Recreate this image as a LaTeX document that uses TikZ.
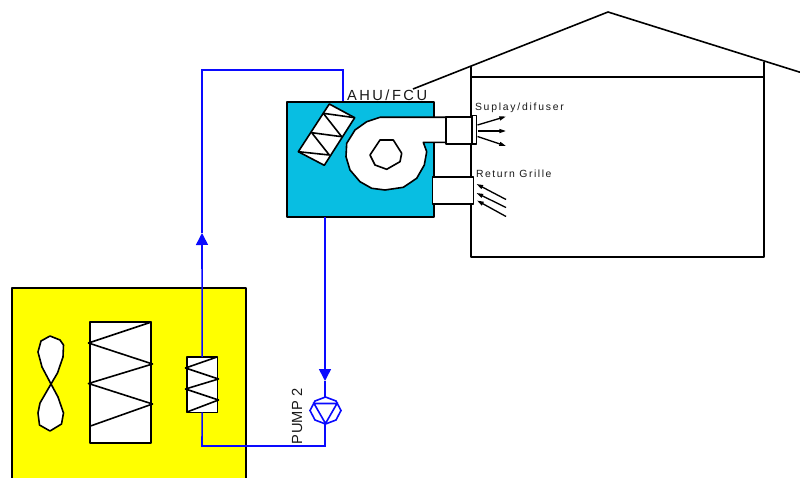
\documentclass[tikz,border=0pt]{standalone}
\usepackage{fontspec}
\setmainfont{Liberation Sans}
\usetikzlibrary{arrows.meta}
\definecolor{ahucyan}{RGB}{8,190,226}
\definecolor{pipeblue}{RGB}{10,10,255}
\definecolor{txt}{RGB}{25,25,25}
\definecolor{condyellow}{RGB}{255,255,0}
\tikzset{
  ln/.style={draw=black,line width=1.2pt,line join=round},
  wh/.style={ln,fill=white},
  boxn/.style={ln,inner sep=0pt,outer sep=0pt,anchor=north west},
  pipe/.style={draw=pipeblue,line width=1.2pt,line join=miter},
  pipetip/.style={pipe,-{Triangle[length=9pt,width=9pt]}},
  air/.style={draw=black,line width=1pt,-{Triangle[length=5pt,width=3pt]}},
  lab/.style={inner sep=0pt,outer sep=0pt,text=txt,anchor=base west}
}
\begin{document}
\begin{tikzpicture}[x=0.75pt,y=-0.75pt]
\clip (0,0) rectangle (800,478);
\fill[white] (0,0) rectangle (800,478);
% house
\coordinate (roofL) at (413,89);
\coordinate (roofT) at (608,12);
\coordinate (roofR) at (812,76);
\draw[ln] (roofL) -- (roofT) -- (roofR);
\draw[ln] (471,66) -- (471,257) -- (764,257) -- (764,62);
\draw[ln] (471,77) -- (764,77);
% yellow unit
\node[boxn,fill=condyellow,minimum width=175.5pt,minimum height=150pt] (cond) at (12,288) {};
\node[boxn,fill=white,minimum width=45.75pt,minimum height=90.75pt] (bigcoil) at (90,322) {};
\draw[ln] (151.5,322) -- (88.5,343) -- (152.5,364) -- (88.5,383.5) -- (152.5,404) -- (90.5,426);
\filldraw[wh] (51,384) -- (42,367) -- (38,352) -- (41,341) -- (50,336) -- (60,340) -- (63.5,345) -- (63,357) -- (57.5,373) -- (51,384)
  -- (40,403) -- (38,413) -- (39.5,425) -- (50,431) -- (61.5,424) -- (63.5,413) -- (58,397) -- cycle;
% supply water pipe
\node[boxn,fill=white,minimum width=22.75pt,minimum height=41.5pt] (smallcoil) at (187,357) {};
\draw[ln] (217,357) -- (185.5,368) -- (218.5,379) -- (185.5,389) -- (218.5,400) -- (187,412);
\coordinate (tipA) at (202,233);
\coordinate (bendA) at (202,70);
\coordinate (bendB) at (343,70);
\coordinate (ahuIn) at (343,102);
\draw[pipetip] (smallcoil.north) -- (tipA);
\draw[pipe] (tipA) -- (bendA) -- (bendB) -- (ahuIn);
% AHU
\node[boxn,fill=ahucyan,minimum width=110.25pt,minimum height=86.25pt] (ahu) at (287,102) {};
\filldraw[wh] (329.3,104) -- (354.7,117.7) -- (324.3,165.3) -- (298.3,151.7) -- cycle;
\draw[ln] (354.7,117.7) -- (323.3,113.3) -- (341.7,136.7) -- (311.7,132.7) -- (329.3,155) -- (298.3,151.7);
% fan scroll
\filldraw[wh] (446,117.3) -- (380,117.3) -- (366.7,121.7) -- (355,130) -- (346.7,143.3) -- (346,156.7) -- (350,170) -- (360,181.7)
  -- (371.7,188.3) -- (385,190) -- (403.3,187.3) -- (416.7,178.3) -- (424.3,165) -- (426.7,151.7) -- (423.3,142.3) -- (446,142.3) -- cycle;
\filldraw[wh] (380,140) -- (393.3,140) -- (401.7,153.3) -- (400,161.7) -- (386.7,169.3) -- (375,165) -- (370,155) -- cycle;
\draw[wh] (471.7,115.7) rectangle (476.3,144);
\node[boxn,fill=white,minimum width=19.5pt,minimum height=20pt] (supduct) at (445.7,117.3) {};
\node[boxn,fill=white,minimum width=30.75pt,minimum height=20.25pt] (retduct) at (432.5,177) {};
% air arrows
\coordinate (s1a) at (477.5,125); \coordinate (s1b) at (506,116.5);
\coordinate (s2a) at (477.5,131); \coordinate (s2b) at (506,131);
\coordinate (s3a) at (477.5,136.5); \coordinate (s3b) at (506,146);
\draw[air] (s1a) -- (s1b);
\draw[air] (s2a) -- (s2b);
\draw[air] (s3a) -- (s3b);
\coordinate (r1a) at (506,199.5); \coordinate (r1b) at (476.5,184);
\coordinate (r2a) at (506,207.5); \coordinate (r2b) at (476.5,193);
\coordinate (r3a) at (506,216.5); \coordinate (r3b) at (477,200.5);
\draw[air] (r1a) -- (r1b);
\draw[air] (r2a) -- (r2b);
\draw[air] (r3a) -- (r3b);
% return water pipe and pump
\coordinate (ahuOut) at (325,217);
\coordinate (tipB) at (325,381);
\coordinate (pumpB) at (325,423.5);
\coordinate (bendC) at (325,446);
\coordinate (bendD) at (202,446);
\draw[pipetip] (ahuOut) -- (tipB);
\draw[pipe] (tipB) -- (325,397);
\draw[pipe] (325.5,397) -- (336,401) -- (341,410.5) -- (336,420) -- (325.5,424) -- (315,420) -- (310,410.5) -- (315,401) -- cycle;
\draw[pipe] (314,403.5) -- (337,403.5) -- (325.5,423.5) -- cycle;
\draw[pipe] (pumpB) -- (bendC) -- (bendD) -- (smallcoil.south);
% labels
\node[lab] (lAHU) at (347,101) {\fontsize{11pt}{13pt}\selectfont\addfontfeature{LetterSpace=17}AHU/FCU};
\node[lab] (lSup) at (475,110) {\fontsize{7.8pt}{9pt}\selectfont\addfontfeature{LetterSpace=17}Suplay/difuser};
\node[lab] (lRet) at (476,177) {\fontsize{7.8pt}{9pt}\selectfont\addfontfeature{LetterSpace=15}Return Grille};
\node[lab,rotate=90] (lPump) at (302,444) {\fontsize{11pt}{13pt}\selectfont\addfontfeature{LetterSpace=2}PUMP 2};
\end{tikzpicture}
\end{document}
